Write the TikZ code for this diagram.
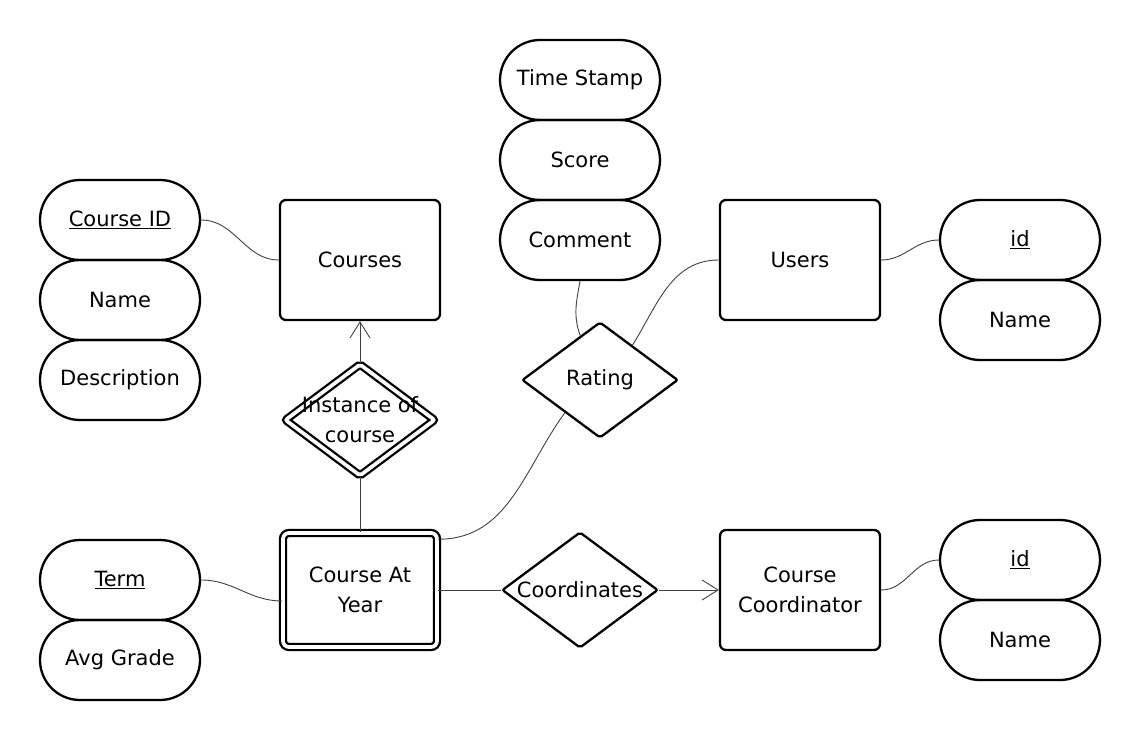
\documentclass[tikz,border=0pt]{standalone}
\usepackage{fontspec}
\setmainfont{DejaVu Sans}
\usetikzlibrary{positioning, shapes.geometric, shapes.misc, arrows.meta}

\tikzset{
  entity/.style={draw, line width=2.3pt, rounded corners=6pt, minimum width=160pt, minimum height=120pt, align=center},
  weakentity/.style={entity, double, double distance=3.7pt, minimum width=154pt, minimum height=114pt},
  attr/.style={draw, line width=2.3pt, rounded rectangle, minimum width=160pt, minimum height=80pt, inner sep=0pt},
  rel/.style={draw, line width=2.3pt, diamond, rounded corners=2pt, inner sep=0pt, minimum width=156pt, minimum height=116pt},
  weakrel/.style={rel, double, double distance=3.7pt, minimum width=150pt, minimum height=112pt},
  link/.style={draw=black!75, line width=0.9pt},
  arr/.style={link, -{Straight Barb[length=16pt,width=20pt]}}
}

\begin{document}
\begin{tikzpicture}[x=1pt, y=1pt, every node/.append style={font=\fontsize{21pt}{30pt}\selectfont}]
    \useasboundingbox (0,0) rectangle (1140,740);

    % Draw entities
    \node[entity] (courses) at (360,480) {Courses};
    \node[entity] (users) at (800,480) {Users};
    \node[weakentity] (cay) at (360,150) {Course At\\Year};
    \node[entity] (coordinator) at (800,150) {Course\\Coordinator};

    % Draw relationships
    \node[weakrel, label={[align=center]center:Instance of\\course}] (instance) at (360,320) {};
    \node[rel, label={center:Rating}] (rating) at (600,360) {};
    \node[rel, label={center:Coordinates}] (coordinates) at (580,150) {};

    % Draw attributes
    \foreach \n/\x/\y/\t in {courseid/120/520/\underline{Course ID}, coursename/120/440/Name, description/120/360/Description,
      timestamp/580/660/Time Stamp, score/580/580/Score, comment/580/500/Comment,
      userid/1020/500/\underline{id}, username/1020/420/Name,
      term/120/160/\underline{Term}, avggrade/120/80/Avg Grade,
      coordid/1020/180/\underline{id}, coordname/1020/100/Name} {
      \node[attr] (\n) at (\x,\y) {\t};
    }

    % Draw connectors
    \draw[link] (courseid.east) to[out=0, in=180] (courses.west);
    \draw[arr] (instance.north) -- (courses.south);
    \draw[link] (cay.north) -- (instance.south);
    \draw[link] (cay.33) to[out=0, in=234] (rating.223);
    \draw[link] (rating.47) to[out=58, in=180] (users.west);
    \draw[link] (comment.south) to[out=-100, in=110] (rating.114);
    \draw[link] (cay.east) -- (coordinates.west);
    \draw[arr] (coordinates.east) -- (coordinator.west);
    \draw[link] (term.east) to[out=0, in=180] (cay.188);
    \draw[link] (users.east) to[out=0, in=180] (userid.west);
    \draw[link] (coordinator.east) to[out=0, in=180] (coordid.west);

\end{tikzpicture}
\end{document}
